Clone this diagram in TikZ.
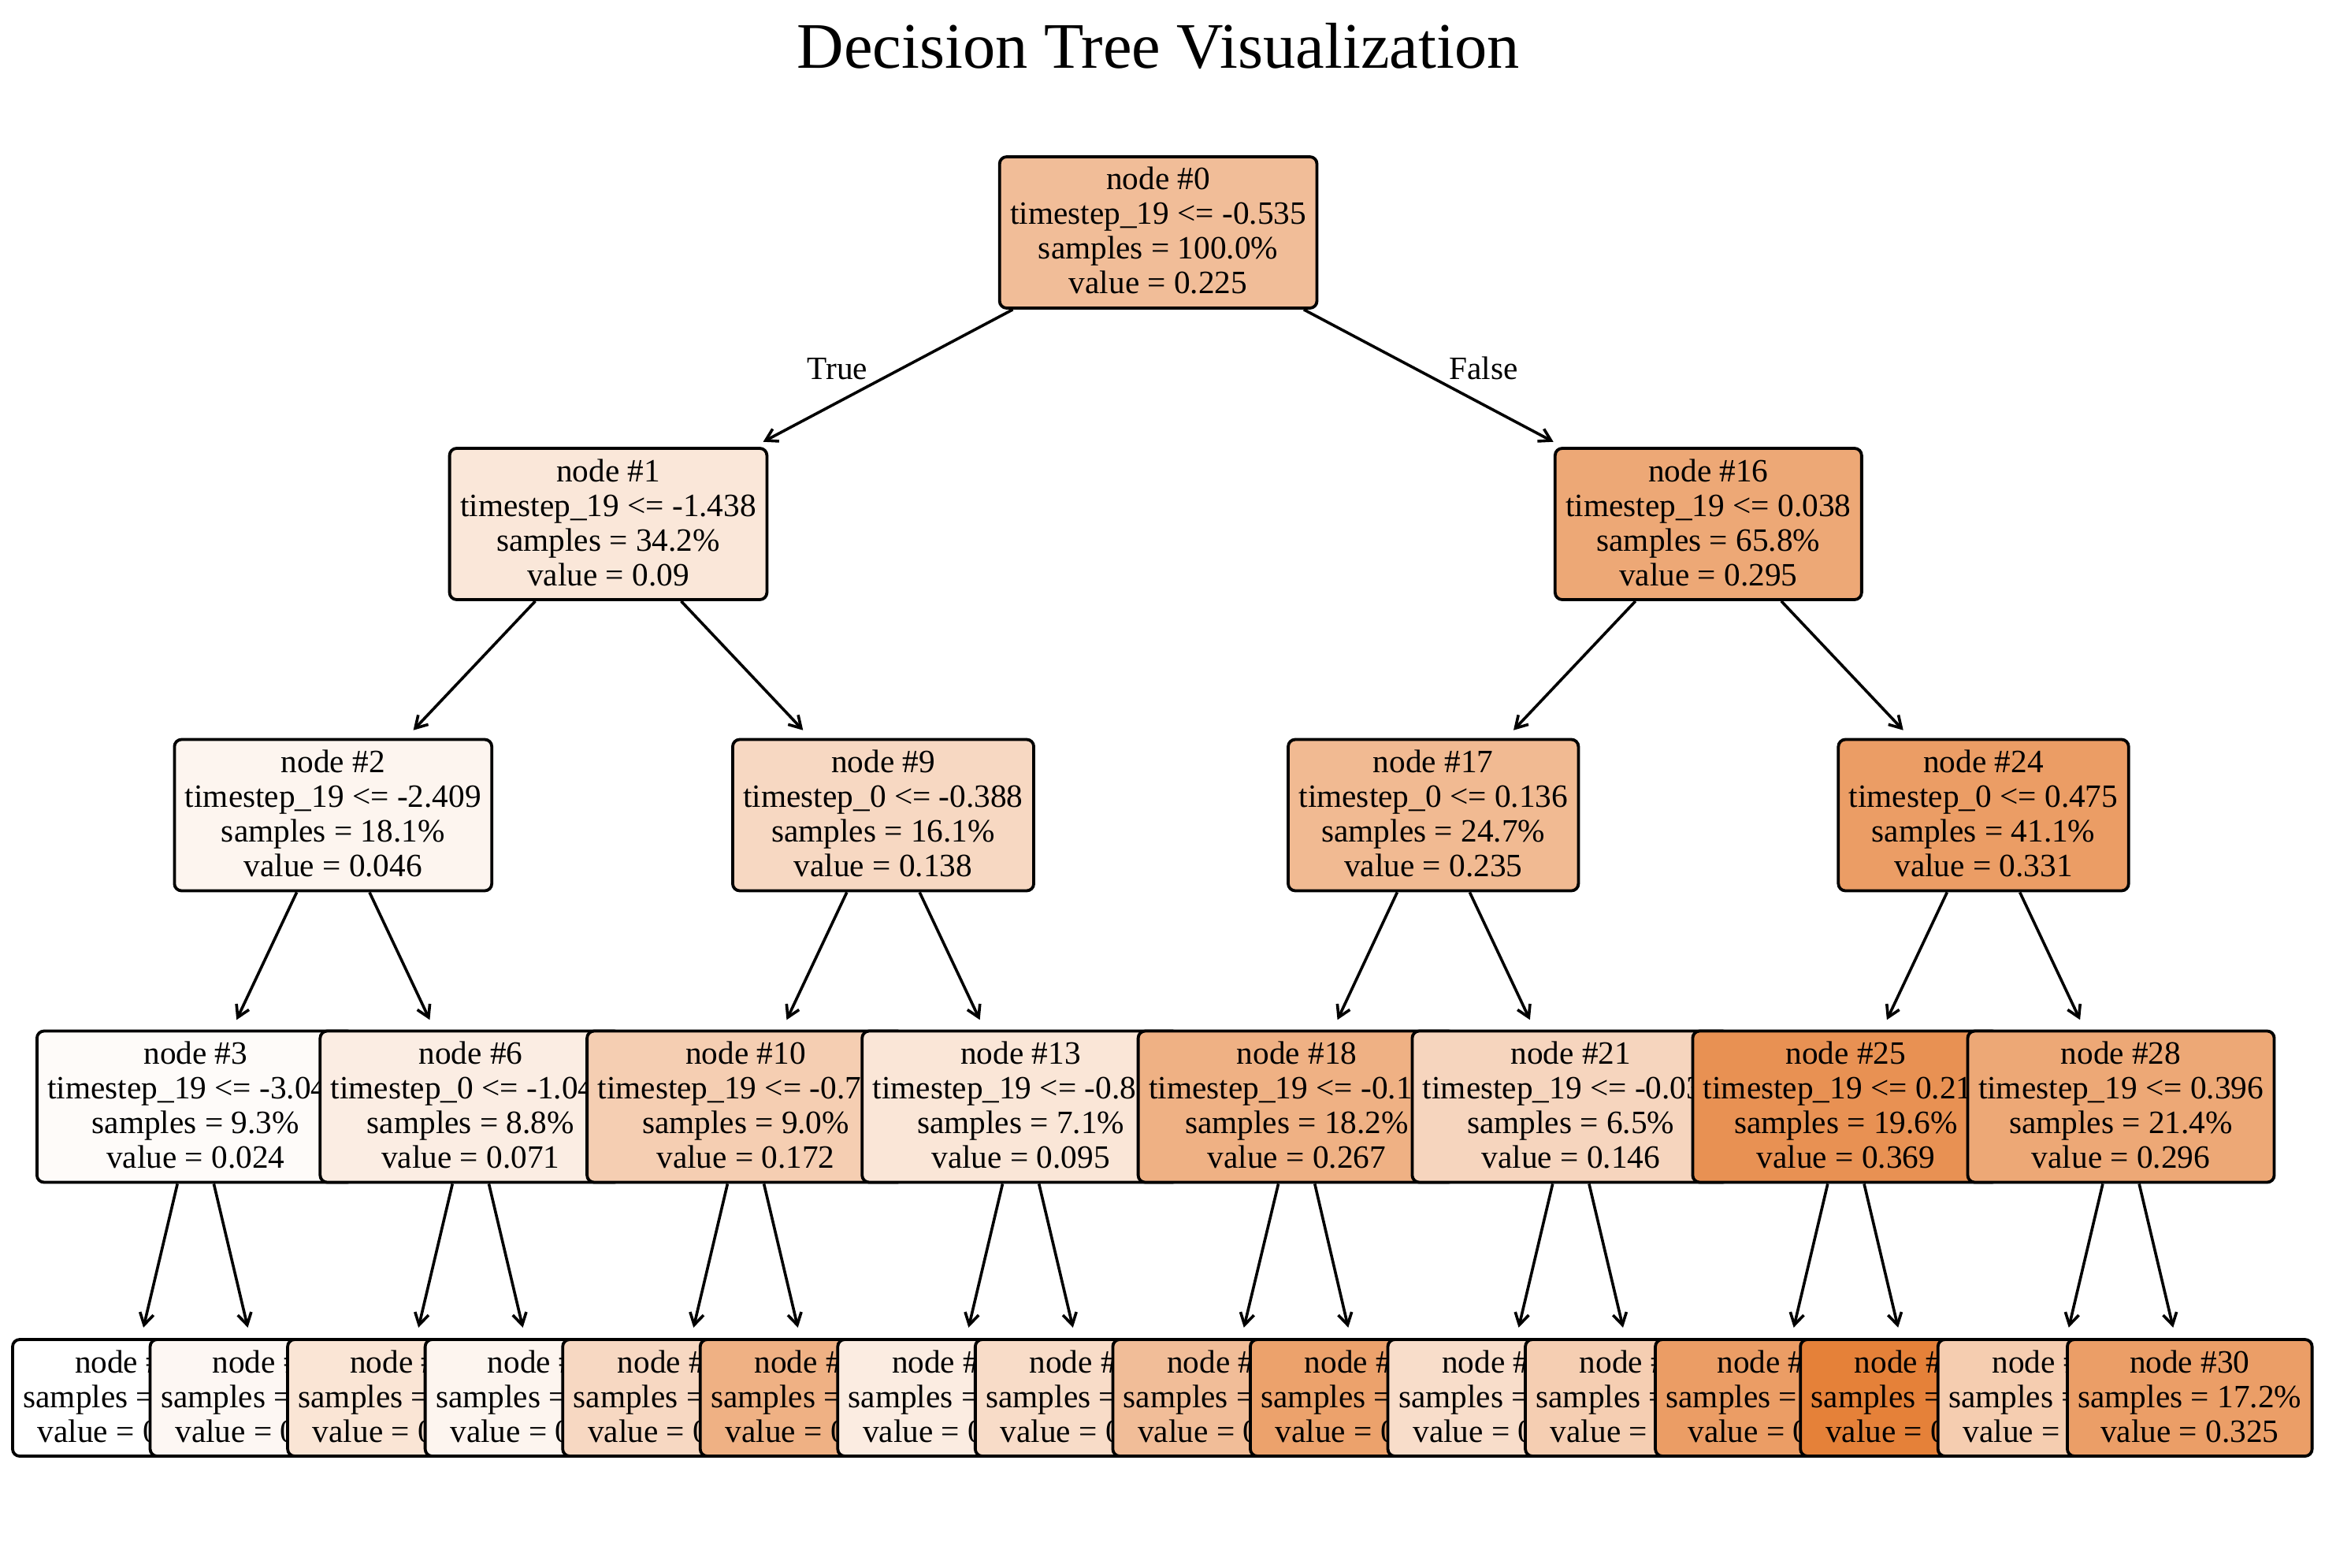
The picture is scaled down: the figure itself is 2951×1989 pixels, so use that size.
\documentclass[tikz,border=0pt]{standalone}
\usepackage{fontspec}
\setmainfont{Liberation Serif}
\usetikzlibrary{arrows.meta}
\definecolor{treebase}{RGB}{229,129,57}
\newcommand{\nodefont}{\fontsize{10.325pt}{11pt}\selectfont}
\newcommand{\titlefont}{\fontsize{20.6pt}{24pt}\selectfont}
\newcommand{\ls}{\rule[-2.25pt]{0pt}{10.5pt}}
\newcommand{\inn}[4]{\ls node \##1\\\ls #2\\\ls samples = #3\%\\\ls value = #4}
\newcommand{\lfn}[3]{\ls node \##1\\\ls samples = #2\%\\\ls value = #3}
\tikzset{
 tbox/.style={draw=black, line width=0.95pt, rounded corners=2.25pt, inner xsep=3.375pt, inner ysep=0pt, minimum height=48pt, align=center, font=\nodefont, fill=treebase!#1!white},
 lbox/.style={tbox=#1, minimum height=37pt},
 link/.style={-{Straight Barb[length=3.7pt,width=4.4pt]}, line width=0.9pt, shorten >=3.4pt},
 elabel/.style={anchor=base, font=\nodefont, inner sep=0pt},
}
\begin{document}
\begin{tikzpicture}[x=0.25pt,y=-0.25pt]
\useasboundingbox (0,0) rectangle (2951,1989);
\node[anchor=base, font=\titlefont, inner sep=0pt] (title) at (1470,87) {Decision Tree Visualization};
% level 0
\node[tbox=52] (n0) at (1470.1,295) {\inn{0}{timestep\_19 <= -0.535}{100.0}{0.225}};
% level 1
\node[tbox=19] (n1) at (772,665) {\inn{1}{timestep\_19 <= -1.438}{34.2}{0.09}};
\node[tbox=69] (n16) at (2168.3,665) {\inn{16}{timestep\_19 <= 0.038}{65.8}{0.295}};
% level 2
\node[tbox=8] (n2) at (422.8,1034.5) {\inn{2}{timestep\_19 <= -2.409}{18.1}{0.046}};
\node[tbox=31] (n9) at (1121.0,1034.5) {\inn{9}{timestep\_0 <= -0.388}{16.1}{0.138}};
\node[tbox=55] (n17) at (1819.2,1034.5) {\inn{17}{timestep\_0 <= 0.136}{24.7}{0.235}};
\node[tbox=78] (n24) at (2517.5,1034.5) {\inn{24}{timestep\_0 <= 0.475}{41.1}{0.331}};
% level 3
\node[tbox=3] (n3) at (248.3,1404.5) {\inn{3}{timestep\_19 <= -3.045}{9.3}{0.024}};
\node[tbox=14] (n6) at (597.4,1404.5) {\inn{6}{timestep\_0 <= -1.042}{8.8}{0.071}};
\node[tbox=39] (n10) at (946.5,1404.5) {\inn{10}{timestep\_19 <= -0.735}{9.0}{0.172}};
\node[tbox=20] (n13) at (1295.6,1404.5) {\inn{13}{timestep\_19 <= -0.827}{7.1}{0.095}};
\node[tbox=62] (n18) at (1646,1404.5) {\inn{18}{timestep\_19 <= -0.152}{18.2}{0.267}};
\node[tbox=33] (n21) at (1993.8,1404.5) {\inn{21}{timestep\_19 <= -0.033}{6.5}{0.146}};
\node[tbox=87] (n25) at (2342.9,1404.5) {\inn{25}{timestep\_19 <= 0.217}{19.6}{0.369}};
\node[tbox=69] (n28) at (2692,1404.5) {\inn{28}{timestep\_19 <= 0.396}{21.4}{0.296}};
% leaves
\node[lbox=0] (n4) at (161,1774) {\lfn{4}{4.6}{0.012}};
\node[lbox=6] (n5) at (335.55,1774) {\lfn{5}{4.7}{0.036}};
\node[lbox=21] (n7) at (510.1,1774) {\lfn{7}{4.3}{0.098}};
\node[lbox=8] (n8) at (684.65,1774) {\lfn{8}{4.5}{0.045}};
\node[lbox=31] (n11) at (859.2,1774) {\lfn{11}{6.6}{0.138}};
\node[lbox=62] (n12) at (1033.75,1774) {\lfn{12}{2.4}{0.266}};
\node[lbox=15] (n14) at (1208.3,1774) {\lfn{14}{4.0}{0.072}};
\node[lbox=28] (n15) at (1382.85,1774) {\lfn{15}{3.1}{0.125}};
\node[lbox=52] (n19) at (1557.4,1774) {\lfn{19}{9.7}{0.226}};
\node[lbox=74] (n20) at (1731.95,1774) {\lfn{20}{8.5}{0.314}};
\node[lbox=27] (n22) at (1906.5,1774) {\lfn{22}{3.4}{0.121}};
\node[lbox=39] (n23) at (2081.05,1774) {\lfn{23}{3.1}{0.173}};
\node[lbox=78] (n26) at (2255.6,1774) {\lfn{26}{11.3}{0.331}};
\node[lbox=100] (n27) at (2430.15,1774) {\lfn{27}{8.3}{0.421}};
\node[lbox=40] (n29) at (2604.7,1774) {\lfn{29}{4.2}{0.177}};
\node[lbox=77] (n30) at (2779.25,1774) {\lfn{30}{17.2}{0.325}};
% connectors
\foreach \p/\c in {n0/n1,n0/n16,n1/n2,n1/n9,n16/n17,n16/n24,
  n2/n3,n2/n6,n9/n10,n9/n13,n17/n18,n17/n21,n24/n25,n24/n28,
  n3/n4,n3/n5,n6/n7,n6/n8,n10/n11,n10/n12,n13/n14,n13/n15,
  n18/n19,n18/n20,n21/n22,n21/n23,n25/n26,n25/n27,n28/n29,n28/n30}
  \draw[link] (\p) -- (\c);
% edge labels
\node[elabel] (ltrue) at (1063,482) {True};
\node[elabel] (lfalse) at (1883,482) {False};
\end{tikzpicture}
\end{document}
